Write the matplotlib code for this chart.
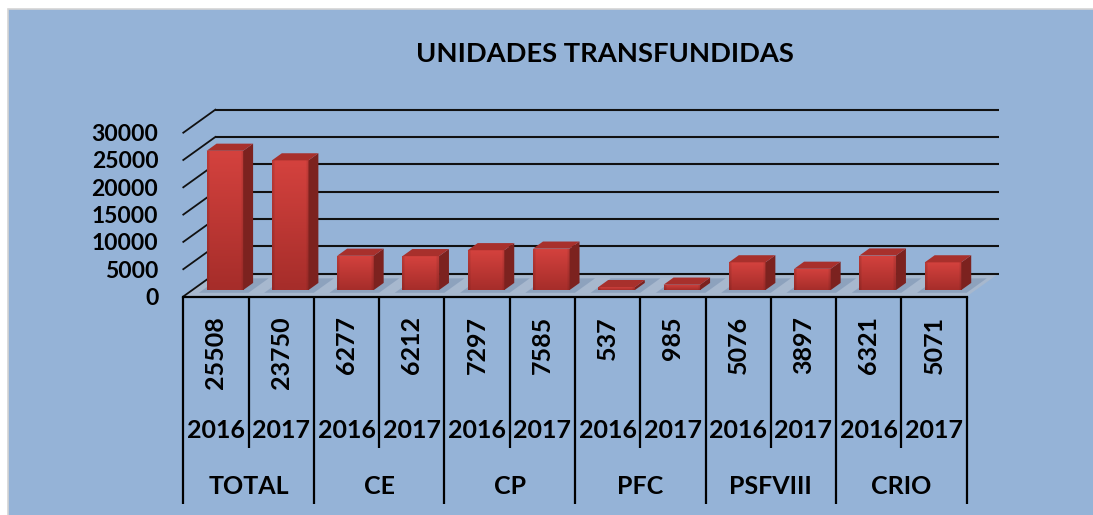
import numpy as np
import matplotlib
matplotlib.use("Agg")
import matplotlib.pyplot as plt
from matplotlib.patches import Polygon, Rectangle
from matplotlib.colors import to_rgb
from matplotlib.transforms import blended_transform_factory

title = "UNIDADES TRANSFUNDIDAS"
groups = ["TOTAL", "CE", "CP", "PFC", "PSFVIII", "CRIO"]
years = ["2016", "2017"]
vals_2016 = [25508, 6277, 7297, 537, 5076, 6321]
vals_2017 = [23750, 6212, 7585, 985, 3897, 5071]
yticks = [0, 5000, 10000, 15000, 20000, 25000, 30000]

values = []
year_labels = []
for a, b in zip(vals_2016, vals_2017):
    values += [a, b]
    year_labels += years
n = len(values)
xs = np.arange(n)

FONT = ["Lato", "DejaVu Sans"]
BG = "#95B3D7"

W, H = 1093, 515
fig = plt.figure(figsize=(W / 100, H / 100), dpi=100)
fig.patch.set_facecolor("white")
fig.patches.append(Rectangle((8 / W, -0.01), 1.0, 1.01 - 9 / H, transform=fig.transFigure,
                             facecolor=BG, edgecolor="#D4D4D4", lw=1.2, zorder=-5))

ax = fig.add_axes([183.3 / W, (H - 296.5) / H, 783.4 / W, 163.8 / H])
ax.set_zorder(1)
ax.set_xlim(-0.5, n - 0.5)
ax.set_ylim(0, 30000)
ax.autoscale(False)
ax.patch.set_visible(False)
for s in ax.spines.values():
    s.set_visible(False)
ax.set_xticks([])
ax.set_yticks(yticks)
ax.set_yticklabels([str(t) for t in yticks], fontsize=16.5, fontweight="bold", family=FONT)
ax.tick_params(axis="y", length=0, pad=18)

# depth offset of the back wall, 32 px right and 23 px up, in data units
p0 = ax.transData.transform((0, 0))
p1 = ax.transData.transform((1, 1000))
DX = 32 / (p1[0] - p0[0])
DY = 23 / (p1[1] - p0[1]) * 1000

x_left, x_right = -0.5, n - 0.5

# floor
floor = Polygon([(x_left, 0), (x_right, 0), (x_right + DX, DY), (x_left + DX, DY)],
                closed=True, facecolor="#A7B8CE", edgecolor="none", zorder=1, clip_on=False)
ax.add_patch(floor)

# back wall grid + side diagonals
for t in yticks:
    ax.plot([x_left + DX, x_right + DX], [t + DY, t + DY], color="#111111", lw=1.5,
            zorder=2, clip_on=False, solid_capstyle="butt")
    ax.plot([x_left, x_left + DX], [t, t + DY], color="#111111", lw=1.3,
            zorder=2, clip_on=False)

# bars
f0 = 0.28      # depth of bar front
d = 0.31       # bar depth
bw = 0.56
y0 = f0 * DY
ox = f0 * DX

# soft shadows on floor
for i in xs:
    xl = i - bw / 2 + ox
    xr = i + bw / 2 + ox
    a, b = max(f0 - 0.12, 0), min(f0 + d + 0.2, 1)
    sh = Polygon([(xl - 0.06 + (a - f0) * DX, (a) * DY), (xr + 0.14 + (a - f0) * DX, a * DY),
                  (xr + 0.14 + (b - f0) * DX, b * DY), (xl - 0.06 + (b - f0) * DX, b * DY)],
                 closed=True, facecolor="#6F88AA", alpha=0.45, edgecolor="none", zorder=1.5,
                 clip_on=False)
    ax.add_patch(sh)

bars = ax.bar(xs + ox, values, width=bw, bottom=y0, color="#C23633", edgecolor="none",
              zorder=3, clip_on=False)

top_c = np.array(to_rgb("#D4423E"))
bot_c = np.array(to_rgb("#A62D2A"))
tt = np.linspace(0, 1, 64)[:, None, None]
grad = top_c * (1 - tt) + bot_c * tt
edge = np.ones((1, 16, 1))
edge[0, 0] = 0.88
edge[0, -1] = 0.9
grad = np.clip(grad * edge, 0, 1)

for i, (bar, v) in enumerate(zip(bars, values)):
    xl = bar.get_x()
    xr = xl + bar.get_width()
    ytop = y0 + v
    im = ax.imshow(grad, extent=[xl, xr, y0, ytop], aspect="auto", origin="upper",
                   zorder=3.1, interpolation="bilinear")
    im.set_clip_path(bar)
    im.set_clip_on(True)
    side = Polygon([(xr, y0), (xr, ytop), (xr + d * DX, ytop + d * DY), (xr + d * DX, y0 + d * DY)],
                   closed=True, facecolor="#7C221F", edgecolor="none", zorder=3.2, clip_on=False)
    top = Polygon([(xl, ytop), (xr, ytop), (xr + d * DX, ytop + d * DY), (xl + d * DX, ytop + d * DY)],
                  closed=True, facecolor="#A8302C", edgecolor="none", zorder=3.2, clip_on=False)
    ax.add_patch(side)
    ax.add_patch(top)

# data table below the axis
tr = blended_transform_factory(ax.transData, fig.transFigure)
ax.plot([x_left, x_right], [1 - 296.5 / H, 1 - 296.5 / H], color="black", lw=1.6,
        transform=tr, clip_on=False, zorder=5)
for k in range(n + 1):
    ybot = 504 if k % 2 == 0 else 448
    ax.plot([x_left + k, x_left + k], [1 - 296.5 / H, 1 - ybot / H], color="black", lw=1.6,
            transform=tr, clip_on=False, zorder=5, solid_capstyle="butt")

for i, v in enumerate(values):
    ax.text(i, 1 - 316 / H, str(v), rotation=90, ha="center", va="top", transform=tr,
            fontsize=18, fontweight="bold", family=FONT)
    ax.text(i, 1 - 431 / H, year_labels[i], ha="center", va="center", transform=tr,
            fontsize=18, fontweight="bold", family=FONT)
for g, name in enumerate(groups):
    ax.text(2 * g + 0.5, 1 - 487 / H, name, ha="center", va="center", transform=tr,
            fontsize=18, fontweight="bold", family=FONT)

fig.text(605 / W, 1 - 54 / H, title, ha="center", va="center", fontsize=19.7,
         fontweight="bold", family=FONT)

fig.savefig("out.png", dpi=100, facecolor=fig.get_facecolor())
